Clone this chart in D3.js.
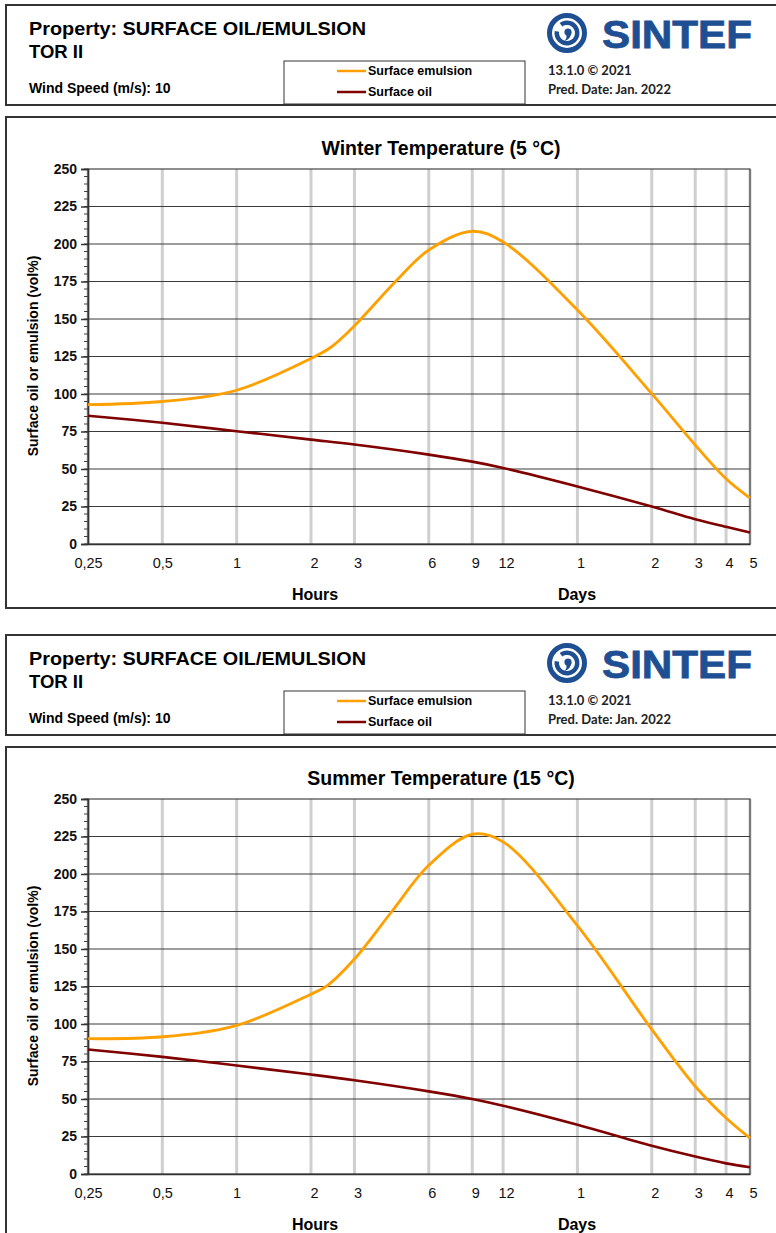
<!DOCTYPE html>
<html>
<head>
<meta charset="utf-8">
<script src="https://cdn.jsdelivr.net/npm/d3@7"></script>
<style>
  body { margin: 0; background: #fff; }
  text { font-family: Arial, "Liberation Sans", sans-serif; }
</style>
</head>
<body>
<div class="chartHolder"></div>
<script>
// x values in hours (log scale)
var tickHours = [0.25, 0.5, 1, 2, 3, 6, 9, 12, 24, 48, 72, 96, 120];
var tickLabels = ["0,25", "0,5", "1", "2", "3", "6", "9", "12", "1", "2", "3", "4", "5"];
var yTicks = [0, 25, 50, 75, 100, 125, 150, 175, 200, 225, 250];

// winter (5 C)
var winterEmulsionHours = [0.25, 0.5, 1, 2, 2.4, 3, 4.46, 6, 9, 12, 24, 48, 72, 96, 120];
var winterEmulsion = [92.9, 95, 102.5, 123.7, 131, 145.5, 176, 196, 208.5, 201.3, 156, 100.2, 66, 43.5, 30.6];
var winterOilHours = [0.25, 0.5, 1, 2, 3, 6, 9, 12, 24, 48, 72, 96, 120];
var winterOil = [85.5, 80.8, 75.2, 69.6, 66.3, 59.6, 54.9, 50.7, 38.4, 25, 16.5, 11.5, 7.6];

// summer (15 C)
var summerEmulsionHours = [0.25, 0.5, 1, 2, 2.32, 3, 4.25, 6, 9, 12, 24, 48, 72, 96, 120];
var summerEmulsion = [90.2, 91.5, 99.1, 119.9, 125.4, 143.3, 175, 205.8, 226.5, 221.4, 165.6, 96.4, 58.5, 37.3, 23.9];
var summerOilHours = [0.25, 0.5, 1, 2, 3, 6, 9, 12, 24, 48, 72, 96, 120];
var summerOil = [83, 78.1, 72.3, 66.3, 62.5, 55.1, 50, 45.5, 32.8, 18.8, 11.6, 7.1, 4.5];

var colors = ["#ffa000", "#800000"],
    legendTxt = ["Surface emulsion", "Surface oil"];

var svgW = 776, svgH = 1233;
var svg = d3.select(".chartHolder").append("svg").attr("width", svgW).attr("height", svgH);

function zip(xs, ys) {
  return xs.map(function (h, i) { return { h: h, v: ys[i] }; });
}

function drawLogo(g, cx, cy) {
  var blue = "#1f4f93";
  g.append("circle").attr("cx", cx).attr("cy", cy).attr("r", 17.5)
    .attr("fill", "none").attr("stroke", blue).attr("stroke-width", 5);
  var arc = d3.arc().innerRadius(8).outerRadius(12.5).startAngle(-0.2 * Math.PI).endAngle(1.55 * Math.PI);
  g.append("path").attr("d", arc()).attr("transform", "translate(" + cx + "," + cy + ")").attr("fill", blue);
  g.append("circle").attr("cx", cx + 1).attr("cy", cy - 1).attr("r", 3.6).attr("fill", blue);
  g.append("path")
    .attr("d", "M" + (cx + 4.4) + "," + (cy - 0.5) + " Q" + (cx + 4) + "," + (cy + 6) + " " + (cx - 2.5) + "," + (cy + 8) +
      " Q" + (cx + 1) + "," + (cy + 4) + " " + (cx - 1.5) + "," + (cy + 1) + " Z")
    .attr("fill", blue);
  g.append("text").text("SINTEF").attr("x", 602).attr("y", cy + 15)
    .attr("font-size", "38px").attr("font-weight", "bold").attr("fill", blue)
    .attr("stroke", blue).attr("stroke-width", 0.8)
    .attr("textLength", 150).attr("lengthAdjust", "spacingAndGlyphs");
}

function drawPanel(oy, title, emuH, emuV, oilH, oilV) {
  var g = svg.append("g").attr("transform", "translate(0," + oy + ")");

  // header box
  g.append("rect").attr("x", 6).attr("y", 5).attr("width", 790).attr("height", 100)
    .attr("fill", "none").attr("stroke", "#333").attr("stroke-width", 2);
  g.append("text").text("Property: SURFACE OIL/EMULSION").attr("x", 29).attr("y", 35)
    .attr("font-size", "18.5px").attr("font-weight", "bold").attr("textLength", 337).attr("lengthAdjust", "spacingAndGlyphs");
  g.append("text").text("TOR II").attr("x", 29).attr("y", 58)
    .attr("font-size", "18.5px").attr("font-weight", "bold");
  g.append("text").text("Wind Speed (m/s): 10").attr("x", 29).attr("y", 93)
    .attr("font-size", "14px").attr("font-weight", "bold");

  // legend
  g.append("rect").attr("x", 284).attr("y", 61).attr("width", 241).attr("height", 43)
    .attr("fill", "#fff").attr("stroke", "#333").attr("stroke-width", 1);
  g.selectAll(".legLine").data(colors).enter().append("line").attr("class", "legLine")
    .attr("x1", 337).attr("x2", 366)
    .attr("y1", function (d, i) { return 71 + i * 21; })
    .attr("y2", function (d, i) { return 71 + i * 21; })
    .attr("stroke", function (d) { return d; }).attr("stroke-width", 2.5);
  g.selectAll(".desc").data(legendTxt).enter().append("text").attr("class", "desc")
    .text(function (d) { return d; })
    .attr("x", 368).attr("y", function (d, i) { return 75 + i * 21; })
    .attr("font-size", "12.5px").attr("font-weight", "bold");

  drawLogo(g, 567, 33);
  g.append("text").text("13.1.0 \u00a9 2021").attr("x", 548).attr("y", 75)
    .style("font-family", "Lato, sans-serif").attr("font-size", "13px").attr("font-weight", "bold").attr("fill", "#222");
  g.append("text").text("Pred. Date: Jan. 2022").attr("x", 548).attr("y", 94)
    .style("font-family", "Lato, sans-serif").attr("font-size", "13px").attr("font-weight", "bold").attr("fill", "#222");

  // chart box
  g.append("rect").attr("x", 6).attr("y", 117).attr("width", 790).attr("height", 491)
    .attr("fill", "none").attr("stroke", "#333").attr("stroke-width", 2);
  g.append("text").text(title).attr("x", 441).attr("y", 155).attr("text-anchor", "middle")
    .attr("font-size", "19.5px").attr("font-weight", "bold");

  var xScale = d3.scaleLog().base(2).domain([0.25, 120]).range([88, 750]);
  var yScale = d3.scaleLinear().domain([0, 250]).range([544, 169]);

  // vertical grid
  g.selectAll(".vgrid").data(tickHours).enter().append("line").attr("class", "vgrid")
    .attr("x1", function (d) { return xScale(d); }).attr("x2", function (d) { return xScale(d); })
    .attr("y1", yScale(250)).attr("y2", yScale(0))
    .attr("stroke", "#cfcfcf").attr("stroke-width", 3);

  // horizontal grid
  g.selectAll(".hgrid").data(yTicks.slice(1, -1)).enter().append("line").attr("class", "hgrid")
    .attr("x1", 88).attr("x2", 750)
    .attr("y1", function (d) { return yScale(d); }).attr("y2", function (d) { return yScale(d); })
    .attr("stroke", "#3a3a3a").attr("stroke-width", 1);

  g.append("rect").attr("x", 88).attr("y", yScale(250)).attr("width", 662).attr("height", yScale(0) - yScale(250))
    .attr("fill", "none").attr("stroke", "#444").attr("stroke-width", 1.2);

  // y axis
  var minor = d3.range(0, 251, 5);
  g.selectAll(".minor").data(minor).enter().append("line").attr("class", "minor")
    .attr("x1", 84).attr("x2", 88)
    .attr("y1", function (d) { return yScale(d); }).attr("y2", function (d) { return yScale(d); })
    .attr("stroke", "#444").attr("stroke-width", 1);
  var yAxis = d3.axisLeft(yScale).tickValues(yTicks).tickSize(7).tickPadding(4);
  var ya = g.append("g").attr("transform", "translate(88,0)").call(yAxis);
  ya.selectAll("path, line").attr("stroke", "#333").attr("stroke-width", 1.5);
  ya.selectAll("text").attr("font-size", "14px").attr("font-weight", "bold").attr("fill", "#111")
    .style("font-family", "Arial, 'Liberation Sans', sans-serif");

  // x axis
  var xAxis = d3.axisBottom(xScale).tickValues(tickHours).tickSize(0).tickPadding(14)
    .tickFormat(function (d, i) { return tickLabels[i]; });
  var xa = g.append("g").attr("transform", "translate(0,544)").call(xAxis);
  xa.select(".domain").attr("stroke", "#333").attr("stroke-width", 1.5);
  xa.selectAll("text").attr("font-size", "14.5px").attr("fill", "#111")
    .attr("dx", function (d, i) { return i > 2 ? 3 : 0; })
    .style("font-family", "Arial, 'Liberation Sans', sans-serif");

  g.append("text").text("Hours").attr("x", 315).attr("y", 600).attr("text-anchor", "middle")
    .attr("font-size", "16px").attr("font-weight", "bold");
  g.append("text").text("Days").attr("x", 577).attr("y", 600).attr("text-anchor", "middle")
    .attr("font-size", "16px").attr("font-weight", "bold");
  g.append("text").text("Surface oil or emulsion (vol%)")
    .attr("transform", "translate(38,356) rotate(-90)").attr("text-anchor", "middle")
    .attr("font-size", "14px").attr("font-weight", "bold");

  var line = d3.line().curve(d3.curveCatmullRom.alpha(0.5))
    .x(function (d) { return xScale(d.h); }).y(function (d) { return yScale(d.v); });

  g.append("path").datum(zip(oilH, oilV)).attr("d", line)
    .attr("fill", "none").attr("stroke", colors[1]).attr("stroke-width", 2.6);
  g.append("path").datum(zip(emuH, emuV)).attr("d", line)
    .attr("fill", "none").attr("stroke", colors[0]).attr("stroke-width", 2.8);
}

drawPanel(0, "Winter Temperature (5 \u00b0C)", winterEmulsionHours, winterEmulsion, winterOilHours, winterOil);
drawPanel(630, "Summer Temperature (15 \u00b0C)", summerEmulsionHours, summerEmulsion, summerOilHours, summerOil);
</script>
</body>
</html>
